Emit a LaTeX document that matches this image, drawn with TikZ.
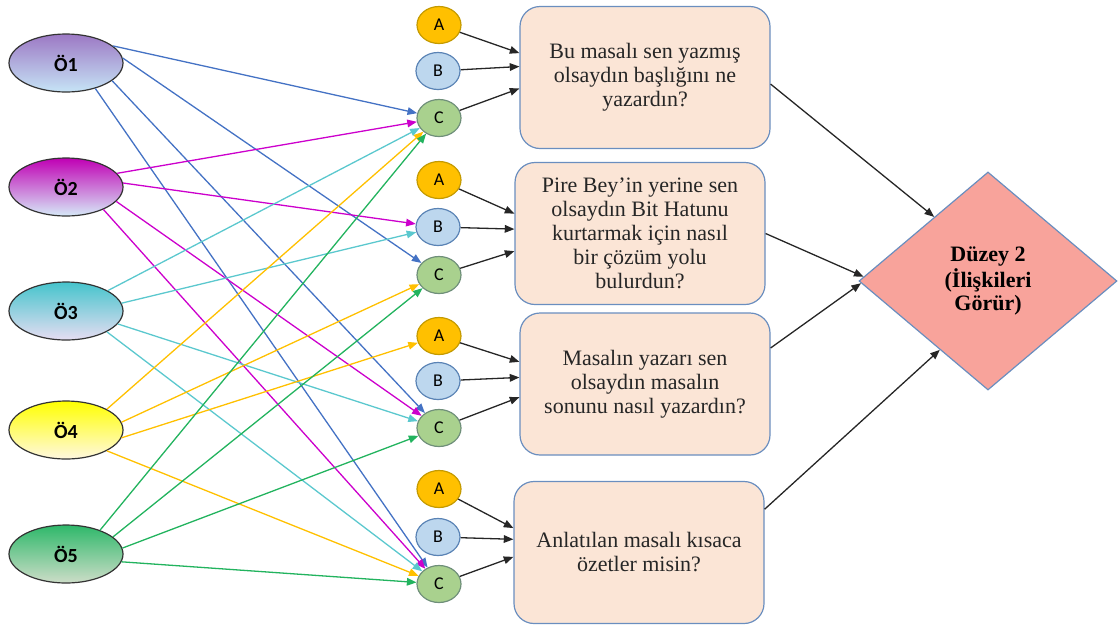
\documentclass[tikz,border=0pt]{standalone}
\usepackage{fontspec}
\setmainfont{Liberation Serif}
\newfontfamily\calfont{Carlito}
\usetikzlibrary{arrows.meta,shapes.geometric}

\definecolor{lblue}{HTML}{4472C4}
\definecolor{lmag}{HTML}{CC00CC}
\definecolor{lcyan}{HTML}{5BC8CE}
\definecolor{lorange}{HTML}{FFC000}
\definecolor{lgreen}{HTML}{22B35E}
\definecolor{boxfill}{HTML}{FBE5D6}
\definecolor{boxline}{HTML}{6A8EBF}
\definecolor{afill}{HTML}{FFC000}
\definecolor{adraw}{HTML}{C49A00}
\definecolor{bfill}{HTML}{BDD7EE}
\definecolor{bdraw}{HTML}{5A83B5}
\definecolor{cfill}{HTML}{A9D18E}
\definecolor{cdraw}{HTML}{6F8F7A}
\definecolor{dfill}{HTML}{F8A39B}
\definecolor{txt}{HTML}{262626}

\begin{document}
\begin{tikzpicture}[x=0.5pt,y=-0.5pt,>={Triangle[length=4.8pt,width=3.8pt]},
    stu/.style={ellipse,draw=black!80,line width=0.6pt,inner sep=0pt,minimum width=57pt,minimum height=29pt,font=\calfont\bfseries\fontsize{10}{11}\selectfont},
    opt/.style={ellipse,line width=0.6pt,inner sep=0pt,minimum width=22pt,minimum height=18.5pt,font=\calfont\fontsize{9}{10}\selectfont},
    qbox/.style={draw=boxline,fill=boxfill,line width=0.6pt,rounded corners=10pt,minimum width=125pt,minimum height=71pt,align=center,text=txt,font=\fontsize{11}{12}\selectfont},
    link/.style={->,line width=0.65pt}]
  \useasboundingbox (0,0) rectangle (1120,628);
  % students
  \node[stu,top color={rgb,255:red,156;green,120;blue,196},middle color={rgb,255:red,165;green,140;blue,205},bottom color={rgb,255:red,198;green,228;blue,246}] (o1) at (66,63) {Ö1};
  \node[stu,top color={rgb,255:red,192;green,0;blue,180},middle color={rgb,255:red,200;green,60;blue,190},bottom color={rgb,255:red,214;green,234;blue,248}] (o2) at (66,187) {Ö2};
  \node[stu,top color={rgb,255:red,69;green,196;blue,204},middle color={rgb,255:red,100;green,200;blue,210},bottom color={rgb,255:red,230;green,221;blue,242}] (o3) at (66,311) {Ö3};
  \node[stu,top color=yellow,middle color=yellow,bottom color={rgb,255:red,255;green,248;blue,224}] (o4) at (66,430) {Ö4};
  \node[stu,top color={rgb,255:red,46;green,184;blue,106},middle color={rgb,255:red,82;green,185;blue,104},bottom color={rgb,255:red,205;green,221;blue,200}] (o5) at (66,554) {Ö5};
  % options
  \node[opt,fill=afill,draw=adraw] (a1) at (439,25) {A};
  \node[opt,fill=bfill,draw=bdraw] (b1) at (438,71) {B};
  \node[opt,fill=cfill,draw=cdraw] (c1) at (439,118) {C};
  \node[opt,fill=afill,draw=adraw] (a2) at (439,180) {A};
  \node[opt,fill=bfill,draw=bdraw] (b2) at (438,227) {B};
  \node[opt,fill=cfill,draw=cdraw] (c2) at (439,275) {C};
  \node[opt,fill=afill,draw=adraw] (a3) at (439,336) {A};
  \node[opt,fill=bfill,draw=bdraw] (b3) at (438,381) {B};
  \node[opt,fill=cfill,draw=cdraw] (c3) at (439,428) {C};
  \node[opt,fill=afill,draw=adraw] (a4) at (439,489) {A};
  \node[opt,fill=bfill,draw=bdraw] (b4) at (438,537) {B};
  \node[opt,fill=cfill,draw=cdraw] (c4) at (439,584) {C};
  % questions
  \node[qbox] (q1) at (645,77.5) {Bu masalı sen yazmış\\olsaydın başlığını ne\\yazardın?};
  \node[qbox] (q2) at (640,233.5) {Pire Bey’in yerine sen\\olsaydın Bit Hatunu\\kurtarmak için nasıl\\bir çözüm yolu\\bulurdun?};
  \node[qbox] (q3) at (645,384) {Masalın yazarı sen\\olsaydın masalın\\sonunu nasıl yazardın?};
  \node[qbox] (q4) at (639,552.5) {Anlatılan masalı kısaca\\özetler misin?};
  \node[diamond,draw=boxline,fill=dfill,line width=0.6pt,inner sep=0pt,minimum width=129pt,minimum height=109pt,align=center,font=\bfseries\fontsize{11}{11.7}\selectfont] (d) at (988,281) {Düzey 2\\(İlişkileri\\Görür)};
  % answers of the students
  \draw[link,lblue] (o1.20) -- (c1);
  \draw[link,lblue] (o1.5) -- (c2);
  \draw[link,lblue] (o1.-21) -- (c3);
  \draw[link,lblue] (o1.-41) -- (c4);
  \draw[link,lmag] (o2.15) -- (c1);
  \draw[link,lmag] (o2.4) -- (b2);
  \draw[link,lmag] (o2.-16) -- (c3);
  \draw[link,lmag] (o2.-31) -- (c4);
  \draw[link,lcyan] (o3.26) -- (c1);
  \draw[link,lcyan] (o3.8) -- (b2);
  \draw[link,lcyan] (o3.-14) -- (c3);
  \draw[link,lcyan] (o3.-27) -- (c4);
  \draw[link,lorange] (o4.27) -- (c1);
  \draw[link,lorange] (o4.8) -- (c2);
  \draw[link,lorange] (o4.-8) -- (a3);
  \draw[link,lorange] (o4.-27) -- (c4);
  \draw[link,lgreen] (o5.35) -- (c1);
  \draw[link,lgreen] (o5.20) -- (c2);
  \draw[link,lgreen] (o5.6) -- (c3);
  \draw[link,lgreen] (o5.-8) -- (c4);
  % options to questions
  \draw[link,black!85] (a1) -- (q1.169);
  \draw[link,black!85] (b1) -- (q1.175);
  \draw[link,black!85] (c1) -- (q1.185);
  \draw[link,black!85] (a2) -- (q2.171);
  \draw[link,black!85] (b2) -- (q2.178);
  \draw[link,black!85] (c2) -- (q2.188);
  \draw[link,black!85] (a3) -- (q3.170);
  \draw[link,black!85] (b3) -- (q3.177);
  \draw[link,black!85] (c3) -- (q3.186);
  \draw[link,black!85] (a4) -- (q4.169);
  \draw[link,black!85] (b4) -- (q4.174);
  \draw[link,black!85] (c4) -- (q4.182);
  % questions to level
  \draw[link,black!85] (q1.-3) -- (d.130);
  \draw[link,black!85] (q2.east) -- (d.178);
  \draw[link,black!85] (q3.16) -- (d.181);
  \draw[link,black!85] (q4.19) -- (d.235);
\end{tikzpicture}
\end{document}
